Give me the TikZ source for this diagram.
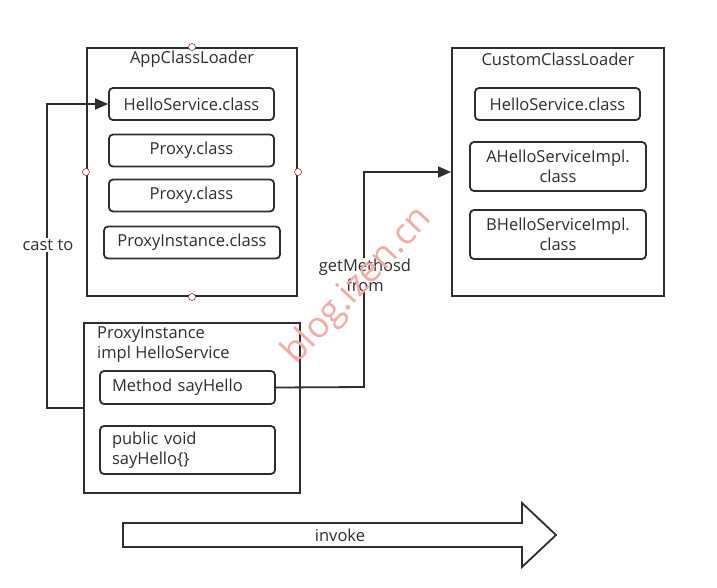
\documentclass[tikz,border=0pt]{standalone}
\usepackage{fontspec}
\setmainfont{Open Sans}
\usetikzlibrary{arrows.meta}
\definecolor{ink}{HTML}{2E2E2E}
\definecolor{wmred}{HTML}{F4ABA4}
\definecolor{handred}{HTML}{B03030}
\begin{document}
\begin{tikzpicture}[x=1pt,y=-1pt,
    every node/.style={text=ink,font=\fontsize{16.5}{20}\selectfont},
    loader/.style={draw=ink,line width=2pt,inner sep=0pt},
    clsbox/.style={draw=ink,line width=1.8pt,rounded corners=4pt,minimum height=32pt,align=center,inner sep=2pt},
    leftbox/.style={clsbox,align=left,text width=151pt,inner xsep=12pt},
    conn/.style={draw=ink,line width=1.8pt},
    handle/.style={draw=handred,fill=white,line width=0.6pt},
    lbl/.style={fill=white,inner sep=1pt,align=center}]
    \useasboundingbox (0,0) rectangle (717,587);
    %class loaders
    \node[loader,minimum width=210pt,minimum height=248pt] (app) at (192,172) {};
    \node (apptitle) at (192,59) {AppClassLoader};
    \node[loader,minimum width=212pt,minimum height=248pt] (custom) at (558,172) {};
    \node (customtitle) at (558,59) {CustomClassLoader};
    %classes in AppClassLoader
    \node[clsbox,minimum width=165pt] (hsapp) at (191.5,104) {HelloService.class};
    \node[clsbox,minimum width=165pt] (proxya) at (191.5,150.5) {Proxy.class};
    \node[clsbox,minimum width=165pt] (proxyb) at (191.5,195.5) {Proxy.class};
    \node[clsbox,minimum width=176pt] (picls) at (192,242.5) {ProxyInstance.class};
    %classes in CustomClassLoader
    \node[clsbox,minimum width=165pt] (hscustom) at (557.5,104) {HelloService.class};
    \node[clsbox,minimum width=176pt,minimum height=49pt] (aimpl) at (558,166.5) {AHelloServiceImpl.\\class};
    \node[clsbox,minimum width=176pt,minimum height=49pt] (bimpl) at (558,234.5) {BHelloServiceImpl.\\class};
    %selection handles
    \foreach \a in {north,south,east,west}
        {%
            \draw[handle] (app.\a) circle (3.5pt);
        }
    %proxy instance
    \node[loader,minimum width=216pt,minimum height=170pt] (pibox) at (192,408) {};
    \node[anchor=north west,align=left,inner sep=0pt] (pititle) at (97,327) {ProxyInstance\\impl HelloService};
    \node[leftbox,minimum height=33pt] (sayhello) at (187.5,387.5) {Method sayHello};
    \node[leftbox,minimum height=48pt] (pubvoid) at (187.5,450) {public void\\sayHello\{\}};
    %connectors
    \coordinate (castx) at (47,408);
    \coordinate (getx) at (364,387);
    \draw[conn,-{Triangle[length=13pt,width=11pt]}] (pibox.west) -- (castx) |- (hsapp.west);
    \draw[conn,-{Triangle[length=13pt,width=11pt]}] (sayhello.east) -- (getx) |- (custom.west);
    \node[lbl] (castlbl) at (48,245) {cast to};
    \node[lbl] (getlbl) at (365,275) {getMethosd\\from};
    %invoke arrow
    \draw[draw=ink,line width=1.8pt,fill=white,line join=miter] (123,523) -- (522,523) -- (522,503) -- (556,535) -- (522,567) -- (522,547) -- (123,547) -- cycle;
    \node (invoke) at (340,535) {invoke};
    %watermark
    \node[rotate=47,text=wmred,font=\fontsize{36}{36}\selectfont] (wmark) at (358,286) {blog.izen.cn};
\end{tikzpicture}
\end{document}
